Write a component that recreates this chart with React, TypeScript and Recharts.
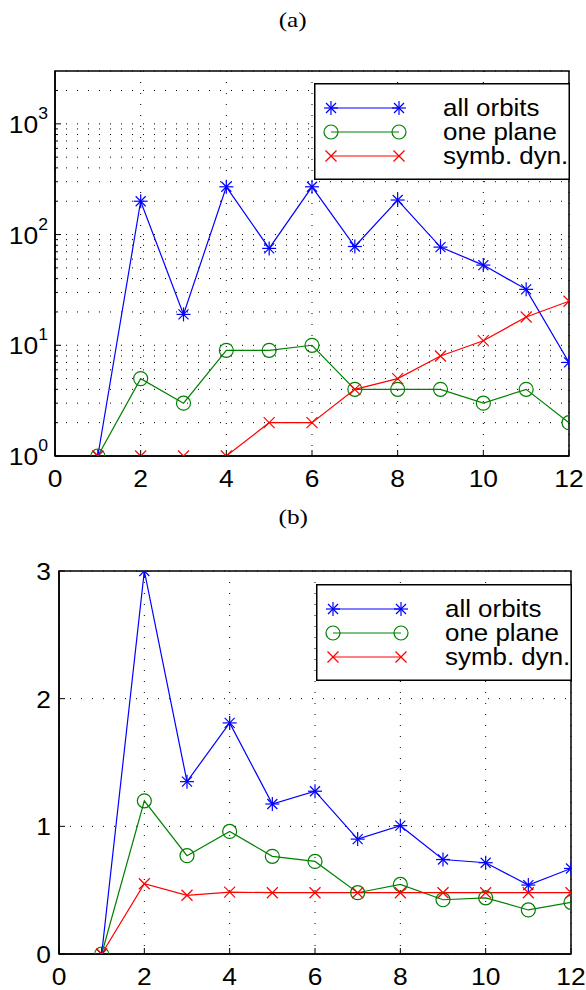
import { LineChart, Line, XAxis, YAxis, CartesianGrid, Legend, ReferenceArea } from "recharts";

// orbit length on the x axis
const orbitLength = [1, 2, 3, 4, 5, 6, 7, 8, 9, 10, 11, 12];

// (a) number of orbits (log scale)
const countAll = [1, 200, 19, 270, 75, 270, 78, 205, 77, 53, 32, 7];
const countPlane = [1, 5, 3, 9, 9, 10, 4, 4, 4, 3, 4, 2];
const countSymb = [1, 1, 1, 1, 2, 2, 4, 5, 8, 11, 18, 25];

// (b) linear scale
const rateAll = [0, 3.0, 1.35, 1.81, 1.175, 1.275, 0.9, 1.005, 0.74, 0.715, 0.54, 0.67];
const ratePlane = [0, 1.2, 0.77, 0.96, 0.765, 0.725, 0.48, 0.545, 0.425, 0.44, 0.345, 0.405];
const rateSymb = [0, 0.55, 0.46, 0.485, 0.48, 0.48, 0.48, 0.48, 0.48, 0.48, 0.48, 0.48];

const xTicks = [0, 2, 4, 6, 8, 10, 12];
const logTicks = [
  1, 2, 3, 4, 5, 6, 7, 8, 9,
  10, 20, 30, 40, 50, 60, 70, 80, 90,
  100, 200, 300, 400, 500, 600, 700, 800, 900,
  1000, 2000,
];
const linTicks = [0, 1, 2, 3];

const seriesNames = ["all orbits", "one plane", "symb. dyn."];
const seriesColors = ["#0000ff", "#008000", "#ff0000"];
const seriesMarks = ["star", "circle", "cross"];

const tableA = orbitLength.map((x, i) => ({ x, all: countAll[i], plane: countPlane[i], symb: countSymb[i] }));
const tableB = orbitLength.map((x, i) => ({ x, all: rateAll[i], plane: ratePlane[i], symb: rateSymb[i] }));

const FONT = "'Liberation Sans', Arial, Helvetica, sans-serif";
const axisStyle = { stroke: "#000", strokeWidth: 1.5 };

const Mark = ({ kind, cx, cy, color }: any) => {
  if (cx == null || cy == null) return null;
  if (kind === "star") {
    return (
      <g stroke={color} strokeWidth={1.2} fill="none">
        <line x1={cx - 7} x2={cx + 7} y1={cy} y2={cy} />
        <line x1={cx} x2={cx} y1={cy - 7} y2={cy + 7} />
        <line x1={cx - 5} y1={cy - 5} x2={cx + 5} y2={cy + 5} />
        <line x1={cx - 5} y1={cy + 5} x2={cx + 5} y2={cy - 5} />
      </g>
    );
  }
  if (kind === "circle") {
    return <circle cx={cx} cy={cy} r={7} stroke={color} strokeWidth={1.2} fill="none" />;
  }
  return (
    <g stroke={color} strokeWidth={1.2}>
      <line x1={cx - 5.5} y1={cy - 5.5} x2={cx + 5.5} y2={cy + 5.5} />
      <line x1={cx - 5.5} y1={cy + 5.5} x2={cx + 5.5} y2={cy - 5.5} />
    </g>
  );
};

const isDecade = (v: number) => Math.abs(Math.log10(v) - Math.round(Math.log10(v))) < 1e-9;

const LogLeftTick = ({ x, y, payload }: any) => {
  const v = payload.value;
  const major = isDecade(v);
  return (
    <g>
      <line x1={x} x2={x + (major ? 6 : 3)} y1={y} y2={y} stroke="#000" />
      {major && (
        <g transform={`translate(${x - 7},${y + 9}) scale(1.1,1)`}>
          <text textAnchor="end" fontFamily={FONT} fontSize={24} fill="#000">
            <tspan>10</tspan>
            <tspan dy={-14} fontSize={16}>{Math.round(Math.log10(v))}</tspan>
          </text>
        </g>
      )}
    </g>
  );
};

const LogRightTick = ({ x, y, payload }: any) => {
  const major = isDecade(payload.value);
  return <line x1={x} x2={x - (major ? 6 : 3)} y1={y} y2={y} stroke="#000" />;
};

const LinLeftTick = ({ x, y, payload }: any) => (
  <g>
    <line x1={x} x2={x + 6} y1={y} y2={y} stroke="#000" />
    <g transform={`translate(${x - 8},${y + 9}) scale(1.1,1)`}>
      <text textAnchor="end" fontFamily={FONT} fontSize={24} fill="#000">{payload.value}</text>
    </g>
  </g>
);

const LinRightTick = ({ x, y }: any) => <line x1={x} x2={x - 6} y1={y} y2={y} stroke="#000" />;

const BottomTick = ({ x, y, payload }: any) => (
  <g>
    <line x1={x} x2={x} y1={y} y2={y - 6} stroke="#000" />
    <g transform={`translate(${x},${y + 31}) scale(1.1,1)`}>
      <text textAnchor="middle" fontFamily={FONT} fontSize={24} fill="#000">{payload.value}</text>
    </g>
  </g>
);

const TopTick = ({ x, y }: any) => <line x1={x} x2={x} y1={y} y2={y + 6} stroke="#000" />;

const LegendBox = () => (
  <svg width={256} height={97} style={{ display: "block" }}>
    <rect x={0.75} y={0.75} width={254.5} height={95.5} fill="#fff" stroke="#000" strokeWidth={1.5} />
    {seriesNames.map((name, i) => {
      const y = 25 + i * 24;
      return (
        <g key={name}>
          <line x1={17} x2={85} y1={y} y2={y} stroke={seriesColors[i]} strokeWidth={1.2} />
          <Mark kind={seriesMarks[i]} cx={17} cy={y} color={seriesColors[i]} />
          <Mark kind={seriesMarks[i]} cx={85} cy={y} color={seriesColors[i]} />
          <g transform={`translate(129,${y + 8}) scale(1.08,1)`}>
            <text fontFamily={FONT} fontSize={24} fill="#000">{name}</text>
          </g>
        </g>
      );
    })}
  </svg>
);

const seriesKeys = ["all", "plane", "symb"];

const renderLines = () =>
  seriesKeys.map((key, i) => (
    <Line
      key={key}
      dataKey={key}
      name={seriesNames[i]}
      type="linear"
      stroke={seriesColors[i]}
      strokeWidth={1.2}
      isAnimationActive={false}
      dot={(p: any) => <Mark key={`${key}-${p.index}`} kind={seriesMarks[i]} cx={p.cx} cy={p.cy} color={seriesColors[i]} />}
      activeDot={false}
    />
  ));

const Caption = ({ top, text }: { top: number; text: string }) => (
  <div
    style={{
      position: "absolute",
      top,
      left: 0,
      width: 586,
      textAlign: "center",
      fontFamily: "'Liberation Serif', 'Times New Roman', serif",
      fontSize: 21,
      lineHeight: "22px",
    }}
  >
    <span style={{ display: "inline-block", transform: "scaleX(1.2)" }}>{text}</span>
  </div>
);

export default function App() {
  return (
    <div style={{ position: "absolute", left: 0, top: 0, width: 586, height: 990, background: "#fff", overflow: "hidden" }}>
      <Caption top={9} text="(a)" />
      <div style={{ position: "absolute", left: 0, top: 0 }}>
        <LineChart width={586} height={498} data={tableA} margin={{ top: 71, right: 17, bottom: 0, left: 0 }}>
          <CartesianGrid stroke="#000" strokeDasharray="1 10" />
          <XAxis dataKey="x" type="number" domain={[0, 12]} ticks={xTicks} interval={0} height={42}
            tickSize={0} tickMargin={0} axisLine={axisStyle} tickLine={false} tick={<BottomTick />} allowDataOverflow />
          <XAxis xAxisId="top" orientation="top" dataKey="x" type="number" domain={[0, 12]} ticks={xTicks} interval={0}
            height={0} tickSize={0} tickMargin={0} axisLine={axisStyle} tickLine={false} tick={<TopTick />} allowDataOverflow />
          <YAxis scale="log" type="number" domain={[1, 3000]} ticks={logTicks} interval={0} width={55}
            tickSize={0} tickMargin={0} axisLine={axisStyle} tickLine={false} tick={<LogLeftTick />} allowDataOverflow />
          <YAxis yAxisId="right" orientation="right" scale="log" type="number" domain={[1, 3000]} ticks={logTicks} interval={0}
            width={0} tickSize={0} tickMargin={0} axisLine={axisStyle} tickLine={false} tick={<LogRightTick />} allowDataOverflow />
          {renderLines()}
          <ReferenceArea x1={0} x2={12} y1={1} y2={3000} fill="none" stroke="#000" strokeWidth={1.5} ifOverflow="visible" />
          <Legend layout="horizontal" verticalAlign="middle" align="center" content={() => <LegendBox />}
            wrapperStyle={{ position: "absolute", left: 314, top: 83, width: 256, height: 97 }} />
        </LineChart>
      </div>
      <Caption top={506} text="(b)" />
      <div style={{ position: "absolute", left: 0, top: 500 }}>
        <LineChart width={586} height={498} data={tableB} margin={{ top: 71, right: 15, bottom: 0, left: 0 }}>
          <CartesianGrid stroke="#000" strokeDasharray="1 10" />
          <XAxis dataKey="x" type="number" domain={[0, 12]} ticks={xTicks} interval={0} height={44}
            tickSize={0} tickMargin={0} axisLine={axisStyle} tickLine={false} tick={<BottomTick />} allowDataOverflow />
          <XAxis xAxisId="top" orientation="top" dataKey="x" type="number" domain={[0, 12]} ticks={xTicks} interval={0}
            height={0} tickSize={0} tickMargin={0} axisLine={axisStyle} tickLine={false} tick={<TopTick />} allowDataOverflow />
          <YAxis type="number" domain={[0, 3]} ticks={linTicks} interval={0} width={59}
            tickSize={0} tickMargin={0} axisLine={axisStyle} tickLine={false} tick={<LinLeftTick />} allowDataOverflow />
          <YAxis yAxisId="right" orientation="right" type="number" domain={[0, 3]} ticks={linTicks} interval={0}
            width={0} tickSize={0} tickMargin={0} axisLine={axisStyle} tickLine={false} tick={<LinRightTick />} allowDataOverflow />
          {renderLines()}
          <ReferenceArea x1={0} x2={12} y1={0} y2={3} fill="none" stroke="#000" strokeWidth={1.5} ifOverflow="visible" />
          <Legend layout="horizontal" verticalAlign="middle" align="center" content={() => <LegendBox />}
            wrapperStyle={{ position: "absolute", left: 316, top: 84, width: 256, height: 97 }} />
        </LineChart>
      </div>
    </div>
  );
}
